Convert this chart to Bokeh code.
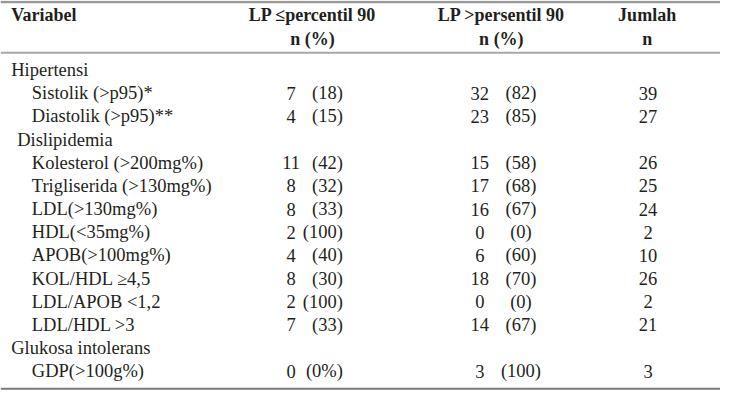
from bokeh.plotting import figure
from bokeh.models import ColumnDataSource, Range1d, Span
from bokeh.core.properties import value
from bokeh.embed import file_html
from bokeh.resources import INLINE

# ---- data ----
headers = ["Variabel", "LP \u2264percentil 90", "LP >persentil 90", "Jumlah"]
subheaders = ["", "n (%)", "n (%)", "n"]

variabel = ["Hipertensi", "Sistolik (>p95)*", "Diastolik (>p95)**", "Dislipidemia",
            "Kolesterol (>200mg%)", "Trigliserida (>130mg%)", "LDL(>130mg%)",
            "HDL(<35mg%)", "APOB(>100mg%)", "KOL/HDL \u22654,5", "LDL/APOB <1,2",
            "LDL/HDL >3", "Glukosa intolerans", "GDP(>100g%)"]
level = [0, 1, 1, 0, 1, 1, 1, 1, 1, 1, 1, 1, 0, 1]

n_low = [None, 7, 4, None, 11, 8, 8, 2, 4, 8, 2, 7, None, 0]
pct_low = [None, 18, 15, None, 42, 32, 33, 100, 40, 30, 100, 33, None, 0]
n_high = [None, 32, 23, None, 15, 17, 16, 0, 6, 18, 0, 14, None, 3]
pct_high = [None, 82, 85, None, 58, 68, 67, 0, 60, 70, 0, 67, None, 100]
jumlah = [None, 39, 27, None, 26, 25, 24, 2, 10, 26, 2, 21, None, 3]

# ---- layout ----
FONT = value("Liberation Serif")
COL = "#231f20"
FS = "18.5px"
HFS = "18px"
row_top, row_step = 72.5, 24.1
ys = [row_top + i * row_step for i in range(len(variabel))]
label_x = [(17 if v == "Dislipidemia" else 11) if l == 0 else 32 for l, v in zip(level, variabel)]

def fmt_n(v):
    return "" if v is None else str(v)

def fmt_pct(v, last=False):
    if v is None:
        return ""
    return f"({v}%)" if last else f"({v})"

nrows = len(variabel)
low_pct_txt = [fmt_pct(v, last=(i == nrows - 1)) for i, v in enumerate(pct_low)]
high_pct_txt = [fmt_pct(v) for v in pct_high]

p = figure(width=720, height=394, output_backend="svg", toolbar_location=None,
           x_range=Range1d(0, 736), y_range=Range1d(410, 0), min_border=0)
p.axis.visible = False
p.grid.visible = False
p.outline_line_color = None
p.background_fill_color = "white"

# rules
for loc, w, c in [(1.5, 2.5, "#9a9a9a"), (54.5, 2, "#a8a8a8"), (404, 2, "#7a7a7a")]:
    p.add_layout(Span(location=loc, dimension="width", line_color=c, line_width=w))

# header
hx = [11, 319, 512, 661]
halign = ["left", "center", "center", "center"]
for t, x, a in zip(headers, hx, halign):
    p.text(x=[x], y=[15], text=[t], text_font=FONT, text_font_size=HFS,
           text_font_style="bold", text_color=COL, text_align=a, text_baseline="middle")
for t, x, a in zip(subheaders, hx, halign):
    if t:
        p.text(x=[x], y=[40], text=[t], text_font=FONT, text_font_size=HFS,
               text_font_style="bold", text_color=COL, text_align=a, text_baseline="middle")

src = ColumnDataSource(dict(
    y=ys, label=variabel, lx=label_x,
    nl=[fmt_n(v) for v in n_low], pl=low_pct_txt,
    nh=[fmt_n(v) for v in n_high], ph=high_pct_txt,
    j=[fmt_n(v) for v in jumlah],
))

common = dict(source=src, text_font=FONT, text_font_size=FS, text_color=COL, text_baseline="middle")
p.text(x="lx", y="y", text="label", text_align="left", **common)
p.text(x=297, y="y", text="nl", text_align="center", **common)
p.text(x=350, y="y", text="pl", text_align="right", **common)
p.text(x=490, y="y", text="nh", text_align="center", **common)
p.text(x=532, y="y", text="ph", text_align="center", **common)
p.text(x=662, y="y", text="j", text_align="center", **common)

open("out.html", "w").write(file_html(p, INLINE))
